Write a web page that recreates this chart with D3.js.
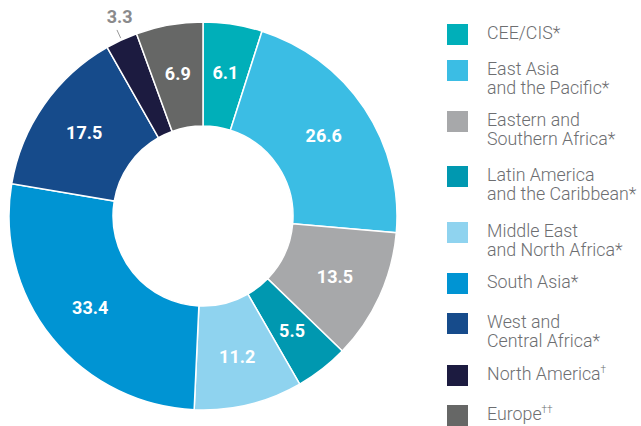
<!DOCTYPE html>
<html>
<head>
<meta charset="utf-8">
<script src="https://cdn.jsdelivr.net/npm/d3@7"></script>
<style>
  body { margin: 0; background: #fff; }
  svg { display: block; }
</style>
</head>
<body>
<div id="chart"></div>
<script>
// slices, clockwise from 12 o'clock
const regions = ["CEE/CIS", "East Asia and the Pacific", "Eastern and Southern Africa",
  "Latin America and the Caribbean", "Middle East and North Africa", "South Asia",
  "West and Central Africa", "North America", "Europe"];
const shares = [6.1, 26.6, 13.5, 5.5, 11.2, 33.4, 17.5, 3.3, 6.9];
const colors = ["#00afb9", "#3bbde4", "#a7a8aa", "#0098b0", "#8fd3ef", "#0094d3",
  "#164b8b", "#1c1b40", "#666766"];
// legend text: lines, plus superscript mark on the last line
const legendLines = [["CEE/CIS*"], ["East Asia", "and the Pacific*"], ["Eastern and", "Southern Africa*"],
  ["Latin America", "and the Caribbean*"], ["Middle East", "and North Africa*"], ["South Asia*"],
  ["West and", "Central Africa*"], ["North America"], ["Europe"]];
const legendSup = ["", "", "", "", "", "", "", "\u2020", "\u2020\u2020"];
const legendTop = [24, 60, 111, 166, 222, 273, 313, 365, 405];

const width = 641, height = 426;
const cx = 203, cy = 216, outerR = 194, innerR = 90;

const svg = d3.select("#chart").append("svg")
  .attr("width", width)
  .attr("height", height);

const g = svg.append("g").attr("transform", `translate(${cx},${cy})`);

const pie = d3.pie().sort(null).value(d => d);
const arcs = pie(shares);

const arc = d3.arc().innerRadius(innerR).outerRadius(outerR);
const labelArc = d3.arc().innerRadius(145).outerRadius(145);

g.selectAll("path.slice")
  .data(arcs)
  .enter().append("path")
  .attr("class", "slice")
  .attr("d", arc)
  .attr("fill", (d, i) => colors[i])
  .attr("stroke", "#fff")
  .attr("stroke-width", 1.5);

// values inside slices (small North America slice labelled outside)
const inside = arcs.filter((d, i) => i !== 7);
g.selectAll("text.val")
  .data(inside)
  .enter().append("text")
  .attr("class", "val")
  .attr("transform", d => `translate(${labelArc.centroid(d)})`)
  .attr("text-anchor", "middle")
  .attr("dy", "0.36em")
  .style("font-family", "Roboto, 'Liberation Sans', Arial, sans-serif")
  .style("font-weight", "bold")
  .style("font-size", "18px")
  .attr("fill", "#fff")
  .text(d => d.value.toFixed(1));

// outside label for North America
const na = arcs[7];
const mid = (na.startAngle + na.endAngle) / 2;
const pt = r => [r * Math.sin(mid), -r * Math.cos(mid)];
g.append("line")
  .attr("x1", pt(196)[0]).attr("y1", pt(196)[1])
  .attr("x2", pt(205)[0]).attr("y2", pt(205)[1])
  .attr("stroke", "#999")
  .attr("stroke-width", 1);
g.append("text")
  .attr("transform", `translate(${pt(220)[0] + 9},${pt(220)[1]})`)
  .attr("text-anchor", "middle")
  .attr("dy", "0.36em")
  .style("font-family", "Roboto, 'Liberation Sans', Arial, sans-serif")
  .style("font-weight", "bold")
  .style("font-size", "18px")
  .attr("fill", "#8a8a8c")
  .text(na.value.toFixed(1));

// legend
const legend = svg.append("g").attr("class", "legend");
const items = legend.selectAll("g.item")
  .data(regions)
  .enter().append("g")
  .attr("class", "item")
  .attr("transform", (d, i) => `translate(447,${legendTop[i]})`);

items.append("rect")
  .attr("width", 21)
  .attr("height", 21)
  .attr("fill", (d, i) => colors[i]);

items.each(function(d, i) {
  const t = d3.select(this).append("text")
    .attr("x", 40)
    .attr("y", 14.5)
    .style("font-family", "Roboto, 'Liberation Sans', Arial, sans-serif")
    .style("font-weight", 300)
    .style("font-size", "17.8px")
    .attr("fill", "#6d6e71");
  legendLines[i].forEach((line, j) => {
    t.append("tspan")
      .attr("x", 40)
      .attr("dy", j === 0 ? 0 : 19)
      .text(line);
  });
  if (legendSup[i]) {
    t.append("tspan")
      .attr("dy", -7)
      .style("font-size", "10px")
      .text(legendSup[i]);
  }
});
</script>
</body>
</html>
